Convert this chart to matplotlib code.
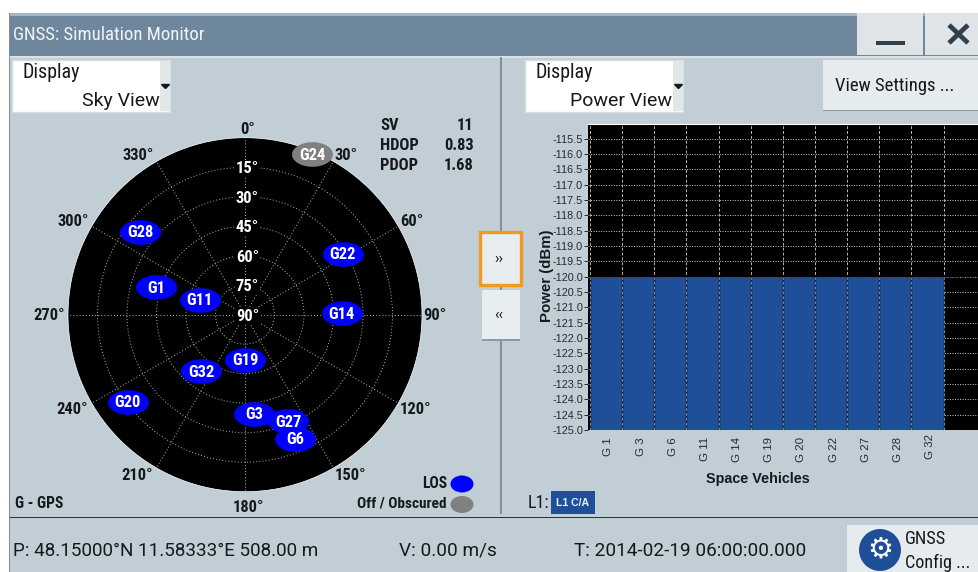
import numpy as np
import matplotlib
matplotlib.use("Agg")
import matplotlib.pyplot as plt
from matplotlib.patches import Rectangle, Circle, Ellipse
from matplotlib.path import Path
from matplotlib.transforms import ScaledTranslation

# ---- data ----
sv_names = ["G24", "G28", "G22", "G1", "G14", "G11", "G32", "G20", "G19", "G27", "G6", "G3"]
sv_azimuth = [22.8, 308.2, 58, 287.3, 89, 288.4, 217.8, 233.4, 180, 158, 157.9, 174.8]
sv_elevation = [1.5, 22, 31.5, 42.7, 40.8, 65.8, 53.5, 15.8, 67, 31.5, 21.8, 39.3]
sv_visible = [False, True, True, True, True, True, True, True, True, True, True, True]
az_ticks = [0, 30, 60, 90, 120, 150, 180, 210, 240, 270, 300, 330]
el_ticks = [15, 30, 45, 60, 75, 90]
power_labels = ["G 1", "G 3", "G 6", "G 11", "G 14", "G 19", "G 20", "G 22", "G 27", "G 28", "G 32"]
power_values = [-120.0] * 11
power_ticks = [-125 + 0.5 * i for i in range(20)]
stat_names = ["SV", "HDOP", "PDOP"]
stat_values = ["11", "0.83", "1.68"]

# where the reference prints its azimuth labels, in picture pixels
az_label_xs = [248, 346, 412, 435, 416, 351, 248, 137, 72, 49, 73, 138]
az_label_ys = [128, 155, 220, 314, 408, 474, 506, 474, 409, 314, 221, 155]

W, H = 979, 572
BG = "#c2ced5"
NARROW = ["Roboto Condensed", "DejaVu Sans"]
ROBOTO = ["Roboto", "DejaVu Sans"]
ARIAL = ["Liberation Sans", "DejaVu Sans"]
BLUE = "#1f4f99"
px = 0.72

fig = plt.figure(figsize=(W / 100, H / 100), dpi=100, facecolor="white")

def axes_px(x0, y0, x1, y1, **kw):
    return fig.add_axes([x0 / W, 1 - y1 / H, (x1 - x0) / W, (y1 - y0) / H], **kw)

ui = fig.add_axes([0, 0, 1, 1], zorder=0)
ui.set_xlim(0, W); ui.set_ylim(H, 0); ui.axis("off")

def rect(x0, y0, x1, y1, fc, ec="none", lw=0, z=1):
    ui.add_patch(Rectangle((x0, y0), x1 - x0, y1 - y0, fc=fc, ec=ec, lw=lw, zorder=z))

def label(x, y, s, size, fam=ROBOTO, ha="left", weight="normal", color="#15191d", z=5):
    ui.text(x, y, s, fontsize=size * px, family=fam, ha=ha, va="center",
            weight=weight, color=color, zorder=z)

# window
rect(9, 13, W, H, BG)
rect(9, 13, W, 16, "#a3b7c5", z=2)
rect(9, 16, W, 56, "#6f879c", z=2)
rect(9, 56, W, 57.5, "#dbe2e6", z=2)
rect(9, 13, 10, H, "#7e8d98", z=3)
label(13, 35.5, "GNSS: Simulation Monitor", 18.8, NARROW, color="#f2f5f7")

# window buttons
rect(857, 13, 923, 55, "#e0e4e6", z=3)
rect(925, 13, W, 55, "#e0e4e6", z=3)
rect(876, 41, 905, 44.5, "#2f3f4c", z=4)
ui.plot([949, 968], [25, 43], color="#2f3f4c", lw=3.4, zorder=4, solid_capstyle="butt")
ui.plot([949, 968], [43, 25], color="#2f3f4c", lw=3.4, zorder=4, solid_capstyle="butt")

# separators
rect(500.5, 57, 502, 514, "#7f909b", z=2)
rect(10, 516.5, W, 518, "#2b343b", z=3)

# combos
for x0, value, vx in [(12.5, "Sky View", 159.5), (525.5, "Power View", 672.5)]:
    rect(x0, 60, x0 + 158, 112, "white", ec="#d5dde2", lw=1, z=2)
    rect(x0 + 148, 61, x0 + 157.5, 111, "#e2e7ea", z=3)
    ui.fill([x0 + 149, x0 + 157, x0 + 153], [84.5, 84.5, 88.5], color="#15191d", zorder=4)
    label(x0 + 10, 72.5, "Display", 20, NARROW)
    label(vx, 101.5, value, 19.5, ROBOTO, ha="right")

# view settings
rect(823, 60, W, 110, "#e6ebee", z=2)
rect(823, 109.5, W, 111, "#8b9ca8", z=3)
label(835, 86, "View Settings ...", 18.6, NARROW)

# arrow buttons
rect(480.5, 231.5, 521, 285, "#e8edf0", ec="#f29a1f", lw=2.4, z=3)
label(499, 259, "\u203a\u203a", 15, ROBOTO, ha="center")
rect(482, 290, 520, 340, "#e8edf0", z=3)
rect(482, 339, 520, 340.5, "#8b9ca8", z=4)
label(499, 315, "\u2039\u2039", 15, ROBOTO, ha="center")

# stats
for i, (n, v) in enumerate(zip(stat_names, stat_values)):
    y = 125 + 20.4 * i
    label(380, y, n, 16.5, NARROW, weight="bold")
    label(474, y, v, 16.5, NARROW, ha="right", weight="bold")

# legends
label(15, 504, "G - GPS", 15.5, NARROW, weight="bold")
label(447, 484, "LOS", 15.5, NARROW, ha="right", weight="bold")
label(447, 504, "Off / Obscured", 15.2, NARROW, ha="right", weight="bold")
ui.add_patch(Ellipse((462, 484), 23, 17, fc="#0000ff", zorder=4))
ui.add_patch(Ellipse((462, 504.5), 23, 17, fc="#808080", zorder=4))

# azimuth labels
for az, tx, ty in zip(az_ticks, az_label_xs, az_label_ys):
    label(tx, ty + 1, f"{az}\u00b0", 16.5, NARROW, ha="center", weight="bold")

# status bar
label(13, 550.5, "P: 48.15000\u00b0N 11.58333\u00b0E 508.00 m", 18.9)
label(399, 550.5, "V: 0.00 m/s", 19)
label(574, 550.5, "T: 2014-02-19 06:00:00.000", 19.05)

# config button
rect(847, 525, W, H, "#e6ebee", z=2)
ui.add_patch(Circle((880, 550), 21, fc=BLUE, zorder=3))
ui.text(880, 549, "\u2699", fontsize=29 * px, family="DejaVu Sans", color="white",
        ha="center", va="center", zorder=4)
label(905, 539.5, "GNSS", 18.5, NARROW)
label(905, 562.5, "Config ...", 18.2, NARROW)

# L1 badge
label(528, 502.5, "L1:", 18, NARROW)
rect(551, 491, 595, 514, BLUE, z=3)
label(573, 503, "L1 C/A", 10.5, ARIAL, ha="center", weight="bold", color="#e8eef5")

# ---- sky view ----
sky = axes_px(68, 137.7, 422, 491.7, projection="polar", zorder=4)
sky.set_theta_zero_location("N")
sky.set_theta_direction(-1)
sky.set_rlim(90, 0)
sky.set_facecolor("black")
sky.set_thetagrids(az_ticks, labels=[])
sky.set_rgrids(el_ticks, labels=[])
sky.grid(True, color="#b4b4b4", lw=0.7, ls=(0, (1, 2.2)))
for s in sky.spines.values():
    s.set_edgecolor("white"); s.set_linewidth(0.5)
sky.tick_params(length=0)

for el in el_ticks:
    sky.annotate(f"{el}\u00b0", (0, el), xycoords="data", xytext=(2.5 * px, -1.5 * px),
                 textcoords="offset points", fontsize=16.5 * px, family=NARROW, weight="bold",
                 ha="center", va="center", color="white", zorder=6,
                 bbox=dict(fc="black", ec="none", pad=0.5), annotation_clip=False)

t = np.linspace(0, 2 * np.pi, 60)
ellipse = Path(np.c_[np.cos(t), 0.6 * np.sin(t)], closed=True)
for i, (n, a, e, v) in enumerate(zip(sv_names, sv_azimuth, sv_elevation, sv_visible)):
    col = "#0000ff" if v else "#808080"
    sky.plot(np.deg2rad(a), e, ls="none", marker=ellipse, ms=41 * px, mfc=col, mec="none",
             clip_on=False, zorder=7 + i * 0.1)
    sky.annotate(n, (np.deg2rad(a), e), xycoords="data", xytext=(0, -1 * px),
                 textcoords="offset points", fontsize=16.5 * px, family=NARROW, weight="bold",
                 color="white", ha="center", va="center", zorder=7.05 + i * 0.1,
                 annotation_clip=False)

# ---- power view ----
pw = axes_px(588.3, 123.5, 977.7, 430, zorder=4)
pw.set_facecolor("black")
x = np.arange(len(power_labels))
pw.bar(x, np.array(power_values) + 125, bottom=-125, width=1, color=BLUE, zorder=2)
pw.set_xlim(-0.55, 11.56)
pw.set_ylim(-125, -115)
pw.set_yticks(power_ticks)
pw.set_yticklabels([f"{v:.1f}" for v in power_ticks], fontsize=10.9 * px, family=ARIAL, color="#222a30")
pw.set_xticks(x)
pw.set_xticklabels(power_labels, rotation=90, fontsize=11.5 * px, family=ARIAL, color="#222a30", va="top")
pw.tick_params(axis="x", length=0, pad=5)
pw.tick_params(axis="y", length=3.2, width=0.7, pad=0.6, color="#222a30")
for lab in pw.get_xticklabels():
    up = 3 if lab.get_text() == "G 32" else 0
    lab.set_transform(lab.get_transform() + ScaledTranslation(2.5 / 100, up / 100, fig.dpi_scale_trans))
pw.grid(True, axis="y", color="#d0d0d0", lw=0.7, ls=(0, (1, 1.6)), zorder=1)
top = max(power_values)
for edge in np.arange(len(power_labels) + 1) - 0.5:
    pw.axvline(edge, color="#b5b5b5", lw=0.7, ls=(0, (3, 2)), zorder=1.8)
    pw.plot([edge, edge], [-125, top], color="#0c1420", lw=1.0, zorder=3)
    pw.plot([edge, edge], [-125, top], color="#7d8791", lw=0.7, ls=(0, (3, 2)), zorder=3.1)
pw.axhline(-120, color="#a01515", lw=0.8, ls=(0, (3, 2)), zorder=4)
for k, s in pw.spines.items():
    s.set_visible(k == "top")
pw.spines["top"].set_color("white")
pw.text(-0.105, 0.503, "Power (dBm)", rotation=90, transform=pw.transAxes, fontsize=15 * px,
        family=ARIAL, weight="bold", ha="center", va="center", color="#15191d", clip_on=False)
pw.text(0.436, -0.1615, "Space Vehicles", transform=pw.transAxes, fontsize=14.4 * px,
        family=ARIAL, weight="bold", ha="center", va="center", color="#15191d", clip_on=False)
fig.savefig("out.png", dpi=100, facecolor="white")
